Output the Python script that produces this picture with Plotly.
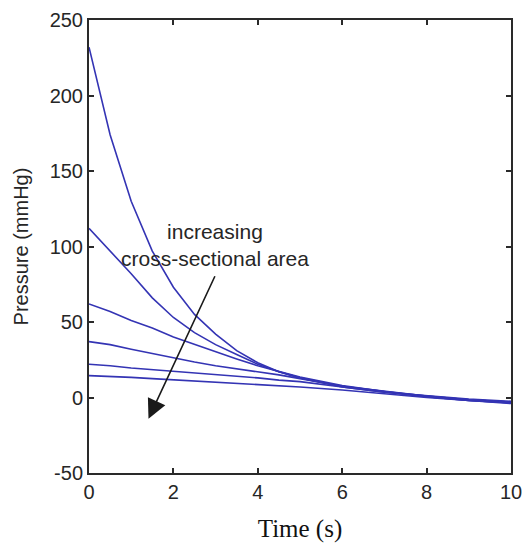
import plotly.graph_objects as go

# Time samples (s)
time_s = [0, 0.5, 1, 1.5, 2, 2.5, 3, 3.5, 4, 4.5, 5, 6, 7, 8, 9, 10]

# Pressure traces (mmHg), smallest cross-sectional area first
p_area1 = [232, 174, 130, 97, 73, 55, 42, 31, 23, 17, 13, 7, 3.5, 1, -1, -2.5]
p_area2 = [112, 97, 82, 66, 53, 43, 35, 28.5, 22, 17, 13, 7.5, 4, 1, -1.5, -3]
p_area3 = [62, 57, 51, 46, 40, 35, 30, 25.5, 21, 17, 13.5, 8, 4, 1, -1.5, -3]
p_area4 = [37, 35, 32, 29, 26, 23.5, 21, 19, 17, 15, 12.5, 7.5, 4, 0.5, -2, -3.5]
p_area5 = [22, 21, 19.5, 18.5, 17, 16, 15, 14, 13, 11.5, 10.5, 7, 3.5, 0.5, -2, -3.5]
p_area6 = [14.5, 14, 13.3, 12.5, 11.7, 11, 10.2, 9.4, 8.6, 8, 7, 5, 2.5, 0, -2, -4]

traces = [p_area1, p_area2, p_area3, p_area4, p_area5, p_area6]

x_ticks = [0, 2, 4, 6, 8, 10]
y_ticks = [-50, 0, 50, 100, 150, 200, 250]
y_tick_labels = ["-50", "0", "50", "100", "150", "200", "250"]

fig = go.Figure()
for p in traces:
    fig.add_trace(go.Scatter(
        x=time_s, y=p, mode="lines",
        line=dict(color="#3434b4", width=1.6),
        showlegend=False, hoverinfo="skip",
    ))

sans = "Liberation Sans, Arial, sans-serif"
serif = "Liberation Serif, Times New Roman, serif"

axis_common = dict(
    showgrid=False, zeroline=False, automargin=False, ticklabeloverflow="allow",
    showline=True, linecolor="#2a2a2a", linewidth=2, mirror="ticks",
    ticks="inside", ticklen=5, tickwidth=1.5, tickcolor="#2a2a2a",
    tickfont=dict(family=sans, size=20, color="#262626"),
)

fig.update_xaxes(
    range=[0, 10], tickvals=x_ticks, **axis_common,
    title=dict(text="Time (s)", font=dict(family=serif, size=25, color="#111111"), standoff=17),
)
fig.update_yaxes(
    range=[-50, 250], tickvals=y_ticks, ticktext=y_tick_labels, **axis_common,
    title=dict(text="Pressure (mmHg)", font=dict(family=sans, size=20, color="#262626"), standoff=16),
)

# Arrow pointing towards increasing cross-sectional area
fig.add_annotation(
    x=1.41, y=-14, ax=3.0, ay=81.3, xref="x", yref="y", axref="x", ayref="y",
    text="", showarrow=True, arrowhead=2, arrowsize=2.4, arrowwidth=1.6,
    arrowcolor="#1a1a1a", standoff=0,
)
fig.add_annotation(
    x=2.98, y=101, xref="x", yref="y",
    text="increasing<br>cross-sectional area", showarrow=False, align="center",
    font=dict(family=sans, size=21, color="#262626"),
)

fig.update_layout(
    width=522, height=550,
    margin=dict(l=89, r=11, t=20, b=77),
    paper_bgcolor="white", plot_bgcolor="white",
)

fig.write_html("out.html")
